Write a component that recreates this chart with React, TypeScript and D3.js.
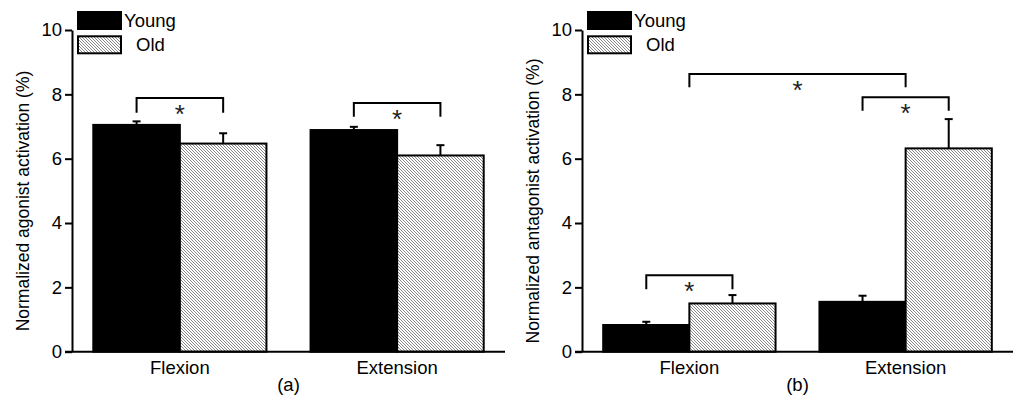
import { useEffect, useRef } from "react";
import * as d3 from "d3";

const categories = ["Flexion", "Extension"];
const series = ["Young", "Old"];

// panel (a): agonist
const agonistMean = [
  [7.05, 6.47],
  [6.89, 6.1],
];
const agonistErr = [
  [0.11, 0.32],
  [0.1, 0.32],
];
// panel (b): antagonist
const antagonistMean = [
  [0.83, 1.5],
  [1.55, 6.32],
];
const antagonistErr = [
  [0.1, 0.26],
  [0.19, 0.91],
];

const yTicks = [0, 2, 4, 6, 8, 10];

interface Bracket {
  from: [string, string | null];
  to: [string, string | null];
  top: number;
  bottom: number;
}

const agonistBrackets: Bracket[] = [
  { from: ["Flexion", "Young"], to: ["Flexion", "Old"], top: 7.89, bottom: 7.43 },
  { from: ["Extension", "Young"], to: ["Extension", "Old"], top: 7.73, bottom: 7.3 },
];
const antagonistBrackets: Bracket[] = [
  { from: ["Flexion", null], to: ["Extension", null], top: 8.63, bottom: 8.22 },
  { from: ["Extension", "Young"], to: ["Extension", "Old"], top: 7.91, bottom: 7.49 },
  { from: ["Flexion", "Young"], to: ["Flexion", "Old"], top: 2.38, bottom: 1.94 },
];

const FONT = "'Liberation Sans', Arial, sans-serif";

interface PanelProps {
  left: number;
  right: number;
  means: number[][];
  errs: number[][];
  brackets: Bracket[];
  yLabel: string;
  tag: string;
  labelX: number;
}

function Panel({ left, right, means, errs, brackets, yLabel, tag, labelX }: PanelProps) {
  const ref = useRef<SVGGElement>(null);

  useEffect(() => {
    if (!ref.current) return;
    const g = d3.select(ref.current);
    g.selectAll("*").remove();

    const top = 30;
    const bottom = 351.7;

    const y = d3.scaleLinear().domain([0, 10]).range([bottom, top]);
    const x0 = d3
      .scaleBand()
      .domain(categories)
      .range([left, right])
      .paddingInner(0.203)
      .paddingOuter(0.098);
    const x1 = d3.scaleBand().domain(series).range([0, x0.bandwidth()]).padding(0);

    const fill = (s: string) => (s === "Young" ? "#000" : "url(#hatch)");

    const rows = categories.flatMap((c, i) =>
      series.map((s, j) => ({ c, s, v: means[i][j], e: errs[i][j] }))
    );

    // error bars first so the bar outline sits on top
    const err = g.append("g");
    rows.forEach((d) => {
      const cx = (x0(d.c) ?? 0) + (x1(d.s) ?? 0) + x1.bandwidth() / 2;
      err
        .append("line")
        .attr("x1", cx)
        .attr("x2", cx)
        .attr("y1", y(d.v))
        .attr("y2", y(d.v + d.e))
        .attr("stroke", "#000")
        .attr("stroke-width", 2);
      err
        .append("line")
        .attr("x1", cx - 4)
        .attr("x2", cx + 4)
        .attr("y1", y(d.v + d.e))
        .attr("y2", y(d.v + d.e))
        .attr("stroke", "#000")
        .attr("stroke-width", 2);
    });

    g.append("g")
      .selectAll("rect")
      .data(rows)
      .join("rect")
      .attr("x", (d) => (x0(d.c) ?? 0) + (x1(d.s) ?? 0))
      .attr("y", (d) => y(d.v))
      .attr("width", x1.bandwidth())
      .attr("height", (d) => bottom - y(d.v))
      .attr("fill", (d) => fill(d.s))
      .attr("stroke", "#000")
      .attr("stroke-width", 2);

    // axes
    const yAxis = g
      .append("g")
      .attr("transform", `translate(${left},0)`)
      .call(d3.axisLeft(y).tickValues(yTicks).tickSize(7).tickSizeOuter(0).tickPadding(3));
    yAxis.select(".domain").attr("stroke-width", 2);
    yAxis.selectAll(".tick line").attr("stroke-width", 2);
    yAxis
      .selectAll(".tick text")
      .attr("font-family", FONT)
      .attr("font-size", 18.5)
      .attr("fill", "#000");

    g.append("line")
      .attr("x1", left - 7)
      .attr("x2", right)
      .attr("y1", bottom)
      .attr("y2", bottom)
      .attr("stroke", "#000")
      .attr("stroke-width", 2);

    g.append("g")
      .selectAll("text")
      .data(categories)
      .join("text")
      .attr("x", (c) => (x0(c) ?? 0) + x0.bandwidth() / 2)
      .attr("y", 374)
      .attr("text-anchor", "middle")
      .attr("font-family", FONT)
      .attr("font-size", 18.5)
      .text((c) => c);

    g.append("text")
      .attr("x", (left + right) / 2)
      .attr("y", 391)
      .attr("text-anchor", "middle")
      .attr("font-family", FONT)
      .attr("font-size", 18.5)
      .text(tag);

    g.append("text")
      .attr("transform", `translate(${labelX},201) rotate(-90)`)
      .attr("text-anchor", "middle")
      .attr("font-family", FONT)
      .attr("font-size", 17.5)
      .text(yLabel);

    // significance brackets
    const bx = ([c, s]: [string, string | null]) =>
      s === null
        ? (x0(c) ?? 0) + x0.bandwidth() / 2
        : (x0(c) ?? 0) + (x1(s) ?? 0) + x1.bandwidth() / 2;
    brackets.forEach((b) => {
      const xa = bx(b.from);
      const xb = bx(b.to);
      g.append("path")
        .attr("d", `M${xa},${y(b.bottom)}V${y(b.top)}H${xb}V${y(b.bottom)}`)
        .attr("fill", "none")
        .attr("stroke", "#000")
        .attr("stroke-width", 2);
      g.append("text")
        .attr("x", (xa + xb) / 2)
        .attr("y", y(b.top) + 25)
        .attr("text-anchor", "middle")
        .attr("font-family", FONT)
        .attr("font-size", 26)
        .attr("fill", "#222")
        .text("*");
    });

    // legend
    const lg = g.append("g");
    series.forEach((s, i) => {
      lg.append("rect")
        .attr("x", left + 6)
        .attr("y", 12 + i * 24.3)
        .attr("width", 43)
        .attr("height", 17)
        .attr("fill", fill(s))
        .attr("stroke", "#000")
        .attr("stroke-width", 2);
      lg.append("text")
        .attr("x", left + (i === 0 ? 52 : 64))
        .attr("y", 27 + i * 23.5)
        .attr("font-family", FONT)
        .attr("font-size", 18.5)
        .text(s);
    });
  }, [left, right, means, errs, brackets, yLabel, tag, labelX]);

  return <g ref={ref} />;
}

export default function App() {
  return (
    <>
      <style>{`body{margin:0}`}</style>
      <svg width={1024} height={407} style={{ display: "block", background: "#fff" }}>
        <defs>
          <pattern id="hatch" patternUnits="userSpaceOnUse" width={3} height={3}>
            <rect width={3} height={3} fill="#fff" />
            <path d="M-1,-1L4,4M2,-1L4,1M-1,2L1,4" stroke="#6a6a6a" strokeWidth={0.8} />
          </pattern>
        </defs>
        <Panel
          left={72}
          right={505}
          means={agonistMean}
          errs={agonistErr}
          brackets={agonistBrackets}
          yLabel="Normalized agonist activation (%)"
          tag="(a)"
          labelX={29}
        />
        <Panel
          left={582}
          right={1013}
          means={antagonistMean}
          errs={antagonistErr}
          brackets={antagonistBrackets}
          yLabel="Normalized antagonist activation (%)"
          tag="(b)"
          labelX={539}
        />
      </svg>
    </>
  );
}
